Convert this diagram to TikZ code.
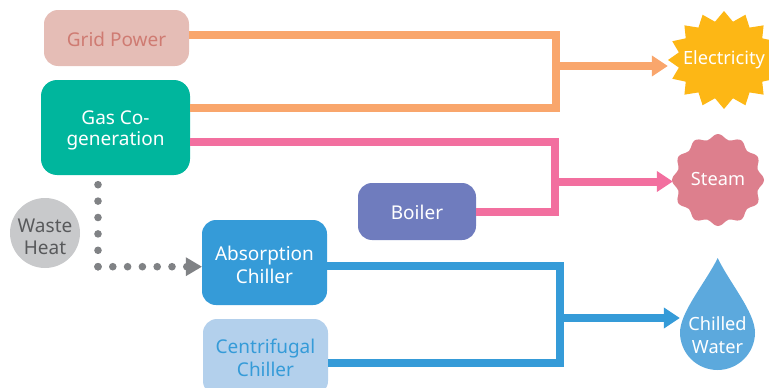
\documentclass[tikz,border=0pt]{standalone}
\usepackage{fontspec}
\setmainfont{Noto Sans}
\usetikzlibrary{arrows.meta}
\definecolor{gridfill}{HTML}{E5BDB6}
\definecolor{gridtext}{HTML}{CF7B72}
\definecolor{gasfill}{HTML}{00B69D}
\definecolor{orangeline}{HTML}{F9A66C}
\definecolor{pinkline}{HTML}{F26F9F}
\definecolor{blueline}{HTML}{359BD8}
\definecolor{centfill}{HTML}{B3D0EC}
\definecolor{boilerfill}{HTML}{6F7CBE}
\definecolor{wastefill}{HTML}{C8C9CB}
\definecolor{wastetext}{HTML}{58595B}
\definecolor{dotgray}{HTML}{808285}
\definecolor{elecfill}{HTML}{FDB715}
\definecolor{steamfill}{HTML}{DD7F8D}
\definecolor{dropfill}{HTML}{5CA9DD}
\newcommand\dropby[1]{\rule{0pt}{\dimexpr 15pt+2\dimexpr #1\relax\relax}}
\tikzset{
  x=1pt,y=-1pt,
  lbl/.style={align=center,font=\fontsize{19}{23}\selectfont,text=white,inner sep=0pt},
  srcbox/.style={lbl,rounded corners=14pt,minimum width=#1},
  feed/.style={line width=8pt,draw=#1},
  feedarrow/.style={line width=8pt,draw=#1,-{Triangle[length=16pt,width=20pt,fill=#1]}},
  dotline/.style={line width=7.6pt,dotgray,line cap=round,dash pattern=on 0pt off #1},
  outnode/.style={lbl,font=\fontsize{18.2}{23}\selectfont}
}
\begin{document}
\begin{tikzpicture}
\useasboundingbox (0,0) rectangle (769,388);
\clip (0,0) rectangle (769,388);
% shapes
\fill[elecfill] plot[samples at={0,...,31}] ({724+(mod(\x,2)==0?56:46)*cos(\x*11.25)},{60+(mod(\x,2)==0?49:39)*sin(\x*11.25)}) -- cycle;
\fill[steamfill] plot[smooth cycle,samples at={0,5,...,355}] ({718+(43.5+2.5*cos(12*\x))*cos(\x)},{180+(43.5+2.5*cos(12*\x))*sin(\x)});
\fill[dropfill] (717.7,258) .. controls (706,282) and (680,312) .. (680,332.5)
  arc[start angle=180,end angle=0,radius=37.5]
  .. controls (755,312) and (729,282) .. (717.7,258) -- cycle;
% nodes
\node[srcbox=145pt,minimum height=56pt,fill=gridfill,text=gridtext] (grid) at (116.5,38) {\dropby{1pt}Grid Power};
\node[srcbox=149pt,minimum height=95pt,fill=gasfill,rounded corners=16pt] (gas) at (115.5,127.5) {\dropby{2pt}Gas Co-\\[-2pt]generation};
\node[srcbox=118pt,minimum height=57pt,fill=boilerfill] (boiler) at (417,211.5) {\dropby{1pt}Boiler};
\node[srcbox=125pt,minimum height=85pt,fill=blueline] (absorb) at (264.5,262.5) {\dropby{2.5pt}Absorption\\Chiller};
\node[srcbox=125pt,minimum height=76pt,fill=centfill,text=blueline] (cent) at (265.5,357) {\dropby{0.5pt}Centrifugal\\Chiller};
\node[lbl,circle,minimum size=70pt,fill=wastefill,text=wastetext] (waste) at (45,233) {\dropby{3pt}Waste\\[-1pt]Heat};
\node[outnode,minimum width=112pt,minimum height=98pt] (elec) at (724,60) {Electricity};
\node[outnode,minimum width=90pt,minimum height=90pt] (steam) at (718,179) {Steam};
\node[outnode,minimum width=75pt,minimum height=60pt] (water) at (717.5,334) {\dropby{0.5pt}Chilled\\Water};
% junctions
\coordinate (ot) at (556,35);
\coordinate (ob) at (556,108);
\coordinate (oj) at (556,66);
\coordinate (pt) at (555,142);
\coordinate (pb) at (555,212);
\coordinate (pj) at (555,181.5);
\coordinate (bt) at (560,265.5);
\coordinate (bb) at (560,363);
\coordinate (bj) at (560,318);
% connectors
\draw[feed=orangeline] (grid.east |- ot) -- (ot) -- (ob) -- (gas.east |- ob);
\draw[feedarrow=orangeline] (oj) -- (elec.west |- oj);
\draw[feed=pinkline] (gas.east |- pt) -- (pt) -- (pb) -- (boiler.east |- pb);
\draw[feedarrow=pinkline] (pj) -- (steam.west |- pj);
\draw[feed=blueline] (absorb.east |- bt) -- (bt) -- (bb) -- (cent.east |- bb);
\draw[feedarrow=blueline] (bj) -- (water.west |- bj);
% waste heat dots
\coordinate (wstart) at (98,184.7);
\coordinate (wcorner) at (98,266.7);
\coordinate (wlast) at (186.8,266.7);
\draw[dotline=16.4pt] (wstart) -- (wcorner);
\draw[dotline=14.8pt] (wcorner) -- (wlast);
\draw[draw=none,fill=dotgray] (absorb.west |- wcorner) -- ++(-16,-9.5) -- ++(0,19) -- cycle;
\end{tikzpicture}
\end{document}
